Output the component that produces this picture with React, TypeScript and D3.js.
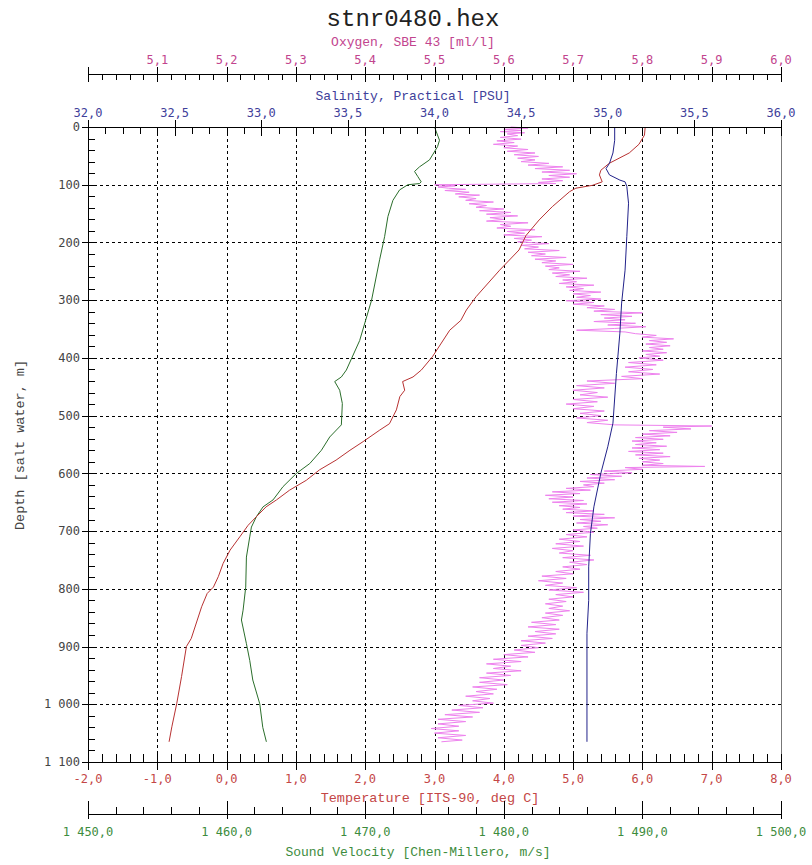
import React from 'react';
import * as d3 from 'd3';

// depth [m], value
const temperature: [number, number][] = [
  [0, 6.04], [14, 6.03], [30, 5.95], [45, 5.81], [63, 5.52], [75, 5.4], [83, 5.38], [95, 5.42],
  [101, 5.28], [106, 5.04], [112, 4.95], [138, 4.7], [161, 4.51], [188, 4.32], [213, 4.22],
  [248, 3.94], [294, 3.6], [317, 3.46], [335, 3.38], [352, 3.22], [398, 2.97], [421, 2.81],
  [433, 2.69], [441, 2.54], [456, 2.57], [467, 2.5], [490, 2.45], [514, 2.35], [525, 2.21],
  [545, 1.97], [560, 1.78], [577, 1.58], [594, 1.34], [612, 1.15], [629, 0.91], [646, 0.72],
  [658, 0.57], [675, 0.43], [690, 0.31], [710, 0.19], [733, 0.05], [756, -0.05], [779, -0.12],
  [797, -0.19], [808, -0.28], [831, -0.36], [886, -0.51], [900, -0.58], [952, -0.65],
  [999, -0.72], [1039, -0.79], [1065, -0.83],
];

const salinity: [number, number][] = [
  [0, 35.04], [23, 35.04], [45, 35.03], [63, 35.01], [72, 34.99], [83, 35.01], [92, 35.07],
  [95, 35.1], [103, 35.11], [132, 35.12], [190, 35.11], [248, 35.1], [305, 35.08], [357, 35.07],
  [427, 35.05], [513, 35.03], [554, 35.0], [600, 34.96], [658, 34.92], [704, 34.9], [762, 34.89],
  [820, 34.89], [877, 34.88], [1065, 34.88],
];

const soundVelocity: [number, number][] = [
  [0, 1475.0], [23, 1475.36], [34, 1475.22], [57, 1474.64], [69, 1473.92], [77, 1473.56],
  [86, 1473.8], [95, 1474.04], [98, 1473.92], [100, 1473.08], [109, 1472.48], [127, 1472.0],
  [155, 1471.64], [190, 1471.4], [230, 1471.04], [300, 1470.46], [370, 1469.6], [421, 1468.64],
  [433, 1468.28], [441, 1467.8], [456, 1468.16], [479, 1468.35], [516, 1468.28], [537, 1467.44],
  [560, 1466.84], [583, 1466.0], [600, 1465.04], [623, 1464.07], [646, 1463.35], [658, 1462.63],
  [675, 1462.15], [693, 1461.79], [710, 1461.67], [745, 1461.43], [797, 1461.38], [837, 1461.19],
  [854, 1461.07], [895, 1461.43], [924, 1461.67], [958, 1461.89], [999, 1462.39], [1040, 1462.61],
  [1065, 1462.87],
];

const oxygen: [number, number][] = [
  [0, 5.61], [2, 5.635], [4, 5.6], [6, 5.625], [8, 5.595], [10, 5.63], [12, 5.605], [15, 5.62],
  [18, 5.595], [21, 5.625], [24, 5.59], [27, 5.615], [30, 5.585], [33, 5.62], [36, 5.6], [39, 5.635],
  [42, 5.605], [45, 5.645], [48, 5.615], [51, 5.65], [54, 5.62], [57, 5.645], [60, 5.625], [63, 5.665],
  [66, 5.635], [69, 5.685], [72, 5.645], [75, 5.695], [78, 5.655], [81, 5.705], [84, 5.665],
  [87, 5.695], [90, 5.655], [93, 5.685], [96, 5.65], [98, 5.675],
  [100, 5.5], [102, 5.53], [104, 5.505], [106, 5.52], [108, 5.545], [110, 5.515], [113, 5.55],
  [116, 5.53], [118, 5.565], [121, 5.535], [124, 5.56], [127, 5.545], [130, 5.585], [133, 5.55],
  [136, 5.575], [139, 5.56], [142, 5.6], [145, 5.565], [148, 5.61], [151, 5.575], [154, 5.62],
  [157, 5.58], [160, 5.6], [163, 5.575], [166, 5.635], [169, 5.595], [172, 5.61], [175, 5.59],
  [178, 5.645], [181, 5.605], [184, 5.63], [187, 5.6], [190, 5.655], [193, 5.615], [196, 5.64],
  [199, 5.62], [202, 5.665], [205, 5.625], [208, 5.65], [211, 5.63], [214, 5.68], [217, 5.635],
  [220, 5.66], [223, 5.64], [226, 5.69], [229, 5.645], [232, 5.675], [235, 5.655], [238, 5.7],
  [241, 5.66], [244, 5.68], [247, 5.665], [250, 5.71], [253, 5.67], [256, 5.695], [259, 5.675],
  [262, 5.72], [265, 5.685], [268, 5.705], [271, 5.68], [274, 5.73], [277, 5.69], [280, 5.715],
  [283, 5.695], [286, 5.74], [289, 5.7], [292, 5.725], [295, 5.705], [298, 5.74], [301, 5.69],
  [304, 5.73], [307, 5.7], [310, 5.745], [313, 5.72], [316, 5.76], [319, 5.73], [322, 5.8],
  [325, 5.74], [328, 5.785], [331, 5.745], [334, 5.775], [337, 5.73], [340, 5.79], [343, 5.75],
  [346, 5.805], [349, 5.76], [352, 5.705], [355, 5.775], [358, 5.79], [361, 5.82], [364, 5.8],
  [367, 5.845], [370, 5.81], [373, 5.835], [376, 5.805], [379, 5.84], [382, 5.81], [385, 5.83],
  [388, 5.8], [391, 5.835], [394, 5.805], [397, 5.825], [400, 5.795], [404, 5.83], [408, 5.78],
  [412, 5.82], [416, 5.775], [420, 5.815], [424, 5.78], [428, 5.825], [432, 5.77], [436, 5.8],
  [440, 5.72], [444, 5.76], [448, 5.705], [452, 5.745], [456, 5.7], [460, 5.735], [464, 5.71],
  [468, 5.75], [472, 5.7], [476, 5.735], [480, 5.69], [484, 5.73], [488, 5.7], [492, 5.745],
  [496, 5.71], [500, 5.74], [504, 5.705], [508, 5.75], [512, 5.72], [516, 5.76], [518, 5.9],
  [520, 5.83], [523, 5.87], [526, 5.81], [529, 5.85], [532, 5.8], [535, 5.84], [538, 5.79],
  [541, 5.83], [544, 5.785], [547, 5.82], [550, 5.79], [553, 5.835], [556, 5.785], [559, 5.825],
  [562, 5.78], [565, 5.83], [568, 5.79], [571, 5.84], [574, 5.795], [577, 5.825], [580, 5.8],
  [583, 5.83], [586, 5.8], [588, 5.89], [590, 5.775], [593, 5.8], [596, 5.745], [599, 5.785],
  [602, 5.725], [605, 5.77], [608, 5.72], [611, 5.76], [614, 5.71], [617, 5.745], [620, 5.715],
  [623, 5.73], [626, 5.69], [629, 5.725], [632, 5.67], [635, 5.71], [638, 5.66], [641, 5.7],
  [644, 5.665], [647, 5.715], [650, 5.67], [653, 5.72], [656, 5.68], [659, 5.71], [662, 5.685],
  [665, 5.73], [668, 5.69], [671, 5.745], [674, 5.7], [677, 5.76], [680, 5.71], [683, 5.74],
  [686, 5.705], [689, 5.75], [692, 5.715], [695, 5.735], [698, 5.7], [702, 5.73], [706, 5.69],
  [710, 5.72], [714, 5.68], [718, 5.71], [722, 5.675], [726, 5.715], [730, 5.67], [734, 5.7],
  [738, 5.68], [742, 5.725], [746, 5.685], [750, 5.73], [754, 5.695], [758, 5.72], [762, 5.685],
  [766, 5.71], [770, 5.675], [774, 5.7], [778, 5.655], [782, 5.69], [786, 5.65], [790, 5.685],
  [794, 5.66], [798, 5.705], [802, 5.665], [806, 5.715], [810, 5.675], [814, 5.7], [818, 5.665],
  [822, 5.69], [826, 5.66], [830, 5.685], [834, 5.665], [838, 5.695], [842, 5.66], [846, 5.685],
  [850, 5.655], [854, 5.68], [858, 5.64], [862, 5.675], [866, 5.635], [870, 5.68], [874, 5.645],
  [878, 5.675], [882, 5.635], [886, 5.67], [890, 5.625], [894, 5.66], [898, 5.625], [902, 5.65],
  [906, 5.615], [910, 5.645], [914, 5.6], [918, 5.635], [922, 5.585], [926, 5.625], [930, 5.575],
  [934, 5.61], [938, 5.585], [942, 5.625], [946, 5.575], [950, 5.61], [954, 5.565], [958, 5.6],
  [962, 5.565], [966, 5.605], [970, 5.555], [974, 5.59], [978, 5.56], [982, 5.585], [986, 5.545],
  [990, 5.58], [994, 5.555], [998, 5.585], [1002, 5.535], [1006, 5.57], [1010, 5.525], [1014, 5.565],
  [1018, 5.515], [1022, 5.555], [1026, 5.505], [1030, 5.545], [1034, 5.505], [1038, 5.535],
  [1042, 5.495], [1046, 5.535], [1050, 5.5], [1054, 5.545], [1058, 5.505], [1062, 5.54], [1065, 5.51],
];

const title = 'stnr0480.hex';
const oxygenTitle = 'Oxygen, SBE 43 [ml/l]';
const salinityTitle = 'Salinity, Practical [PSU]';
const temperatureTitle = 'Temperature [ITS-90, deg C]';
const velocityTitle = 'Sound Velocity [Chen-Millero, m/s]';
const depthTitle = 'Depth [salt water, m]';

const locale = d3.formatLocale({ decimal: ',', thousands: ' ', grouping: [3], currency: ['', ''], minus: '-' });
const f1 = locale.format(',.1f');
const fd = locale.format(',d');

const L = 88, R = 781, T = 127, B = 762;
const mono = '"Liberation Mono", "Courier New", monospace';
const tickFont = '"DejaVu Sans Mono", monospace';

const px = (v: number) => Math.round(v) + 0.5;

export default function App() {
  const y = d3.scaleLinear().domain([0, 1100]).range([T, B]);
  const xT = d3.scaleLinear().domain([-2, 8]).range([L, R]);
  const xS = d3.scaleLinear().domain([32, 36]).range([L, R]);
  const xO = d3.scaleLinear().domain([5, 6]).range([L, R]);
  const xV = d3.scaleLinear().domain([1450, 1500]).range([L, R]);

  const line = (xs: d3.ScaleLinear<number, number>) =>
    d3.line<[number, number]>().x(d => xs(d[1])).y(d => y(d[0]));

  // horizontal axis: minor ticks on one side, major ticks crossing the line
  const hAxis = (
    xs: d3.ScaleLinear<number, number>, ay: number, minorN: number, majorN: number,
    minorDir: number, majorUp: number, majorDown: number, labelY: number, color: string,
    skipFirst: boolean, key: string,
  ) => (
    <g key={key}>
      <line x1={L} x2={R + 1} y1={px(ay)} y2={px(ay)} stroke="#000" />
      {xs.ticks(minorN).map((t, i) => (
        <line key={'m' + i} x1={px(xs(t))} x2={px(xs(t))} y1={ay} y2={ay + minorDir} stroke="#000" />
      ))}
      {xs.ticks(majorN).map((t, i) => (
        <line key={'M' + i} x1={px(xs(t))} x2={px(xs(t))} y1={ay - majorUp} y2={ay + majorDown} stroke="#000" />
      ))}
      {xs.ticks(majorN).map((t, i) =>
        skipFirst && i === 0 ? null : (
          <text key={'l' + i} x={xs(t)} y={labelY} textAnchor="middle" fill={color}
            style={{ font: `12px ${tickFont}` }}>{f1(t)}</text>
        ))}
    </g>
  );

  return (
    <svg width={812} height={865} style={{ position: 'absolute', left: 0, top: 0, background: '#fff' }}>
      <text x={413} y={26} textAnchor="middle" fill="#222" style={{ font: `24px ${mono}` }}>{title}</text>

      {/* grid */}
      {xT.ticks(10).slice(1, -1).map((t, i) => (
        <line key={'gv' + i} x1={px(xT(t))} x2={px(xT(t))} y1={T} y2={B} stroke="#000" strokeDasharray="3,3" />
      ))}
      {y.ticks(11).slice(1, -1).map((t, i) => (
        <line key={'gh' + i} x1={L} x2={R} y1={px(y(t))} y2={px(y(t))} stroke="#000" strokeDasharray="3,3" />
      ))}

      {/* profiles */}
      <path d={line(xO)(oxygen) ?? ''} fill="none" stroke="#ee82ee" strokeWidth={1} />
      <path d={line(xV)(soundVelocity) ?? ''} fill="none" stroke="#2b6e2b" strokeWidth={1} />
      <path d={line(xT)(temperature) ?? ''} fill="none" stroke="#b83232" strokeWidth={1} />
      <path d={line(xS)(salinity) ?? ''} fill="none" stroke="#22228a" strokeWidth={1} />

      {/* right border */}
      <line x1={px(R)} x2={px(R)} y1={T} y2={B} stroke="#777" />

      {/* oxygen axis */}
      {hAxis(xO, 74, 50, 10, 6, 7, 8, 64, '#c2448e', true, 'ox')}
      <text x={413} y={46} textAnchor="middle" fill="#c2448e" style={{ font: `13px ${mono}` }}>{oxygenTitle}</text>

      {/* salinity axis */}
      {hAxis(xS, 127, 40, 8, 7, 7, 9, 117, '#40409a', false, 'sal')}
      <text x={413} y={100} textAnchor="middle" fill="#40409a" style={{ font: `13px ${mono}` }}>{salinityTitle}</text>

      {/* temperature axis */}
      {hAxis(xT, 762, 50, 10, -8, 7, 8, 783, '#c44646', false, 'tmp')}
      <text x={430} y={802} textAnchor="middle" fill="#c44646" style={{ font: `13.5px ${mono}` }}>{temperatureTitle}</text>

      {/* sound velocity axis */}
      {hAxis(xV, 814, 25, 5, -7, 13, 5, 836, '#3d8c3d', false, 'sv')}
      <text x={418} y={856} textAnchor="middle" fill="#3d8c3d" style={{ font: `13px ${mono}` }}>{velocityTitle}</text>

      {/* depth axis */}
      <g>
        <line x1={px(L)} x2={px(L)} y1={T} y2={B + 1} stroke="#000" />
        {y.ticks(55).map((t, i) => (
          <line key={'dm' + i} x1={L} x2={L + 7} y1={px(y(t))} y2={px(y(t))} stroke="#000" />
        ))}
        {y.ticks(11).map((t, i) => (
          <g key={'dM' + i}>
            <line x1={L - 6} x2={L} y1={px(y(t))} y2={px(y(t))} stroke="#000" />
            <text x={L - 8} y={y(t)} dy="0.35em" textAnchor="end" fill="#444"
              style={{ font: `12px ${tickFont}` }}>{fd(t)}</text>
          </g>
        ))}
        <text transform={`translate(24,${445}) rotate(-90)`} textAnchor="middle" fill="#444"
          style={{ font: `13.5px ${mono}` }}>{depthTitle}</text>
      </g>
    </svg>
  );
}
